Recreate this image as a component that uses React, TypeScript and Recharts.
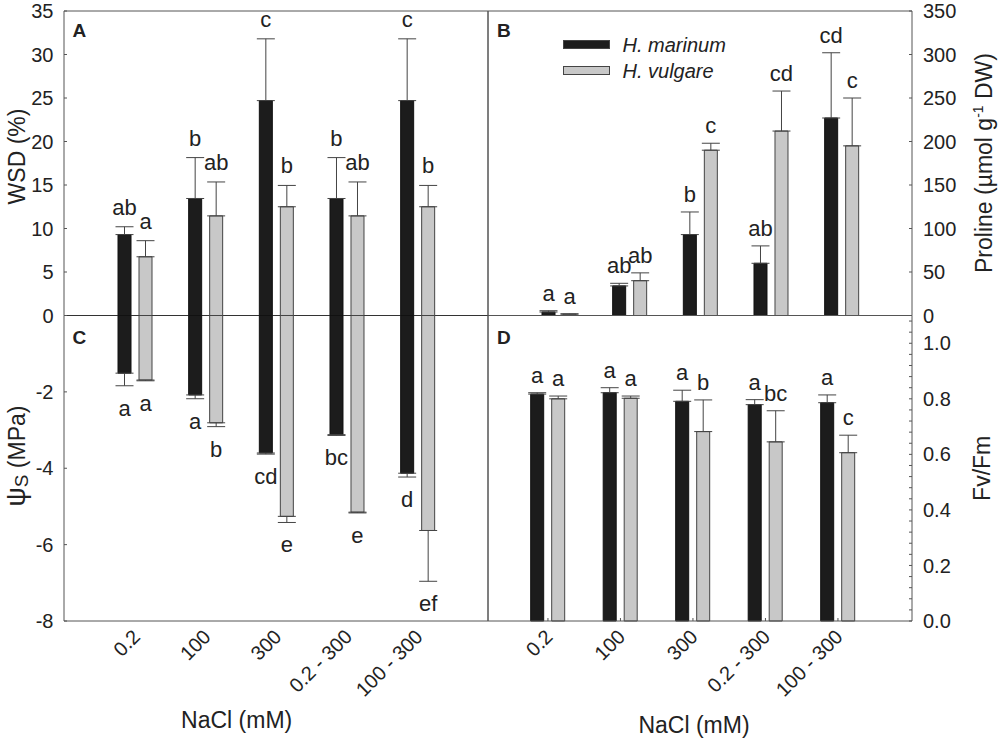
import React from 'react';
import {
  ComposedChart,
  Bar,
  XAxis,
  YAxis,
  ErrorBar,
  LabelList,
  ReferenceLine,
  Legend,
} from 'recharts';

// ---------------- data ----------------
const categories = ['0.2', '100', '300', '0.2 - 300', '100 - 300'];
const seriesNames = ['H. marinum', 'H. vulgare'];

// Panel A: WSD (%)
const wsdMarinum = [9.3, 13.45, 24.7, 13.45, 24.7];
const wsdMarinumErr = [0.9, 4.7, 7.1, 4.7, 7.1];
const wsdMarinumLetters = ['ab', 'b', 'c', 'b', 'c'];
const wsdVulgare = [6.75, 11.45, 12.5, 11.45, 12.5];
const wsdVulgareErr = [1.85, 3.9, 2.45, 3.9, 2.45];
const wsdVulgareLetters = ['a', 'ab', 'b', 'ab', 'b'];
const wsdTicks = [5, 10, 15, 20, 25, 30, 35];

// Panel B: Proline
const proMarinum = [4, 34, 93, 60, 227];
const proMarinumErr = [1.5, 3, 26, 20, 75];
const proMarinumLetters = ['a', 'ab', 'b', 'ab', 'cd'];
const proVulgare = [1.5, 40, 190, 212, 195];
const proVulgareErr = [0.5, 9, 8, 46, 55];
const proVulgareLetters = ['a', 'ab', 'c', 'cd', 'c'];
const proTicks = [0, 50, 100, 150, 200, 250, 300, 350];

// Panel C: osmotic potential (MPa)
const psiMarinum = [-1.51, -2.08, -3.6, -3.12, -4.13];
const psiMarinumErr = [0.33, 0.1, 0.03, 0.02, 0.1];
const psiMarinumLetters = ['a', 'a', 'cd', 'bc', 'd'];
const psiVulgare = [-1.69, -2.81, -5.26, -5.15, -5.63];
const psiVulgareErr = [0.02, 0.1, 0.16, 0.02, 1.33];
const psiVulgareLetters = ['a', 'b', 'e', 'e', 'ef'];
const psiTicks = [-8, -6, -4, -2, 0];

// Panel D: Fv/Fm
const fvMarinum = [0.817, 0.822, 0.791, 0.779, 0.786];
const fvMarinumErr = [0.005, 0.018, 0.04, 0.018, 0.028];
const fvMarinumLetters = ['a', 'a', 'a', 'a', 'a'];
const fvVulgare = [0.8, 0.802, 0.682, 0.645, 0.606];
const fvVulgareErr = [0.01, 0.008, 0.114, 0.112, 0.063];
const fvVulgareLetters = ['a', 'a', 'b', 'bc', 'c'];
const fvTicks = [
  0, 0.04, 0.08, 0.12, 0.16, 0.2, 0.24, 0.28, 0.32, 0.36, 0.4, 0.44, 0.48, 0.52,
  0.56, 0.6, 0.64, 0.68, 0.72, 0.76, 0.8, 0.84, 0.88, 0.92, 0.96, 1.0, 1.04, 1.08,
];
const fvMajorTicks = [0, 0.2, 0.4, 0.6, 0.8, 1.0];

// ---------------- styles ----------------
const FONT = "'Liberation Sans', Arial, Helvetica, sans-serif";
const INK = '#222';
const FRAME = '#555';
const DARK_FILL = '#1c1c1c';
const LIGHT_FILL = '#c8c8c8';
const BAR_EDGE = '#444';
const W = 1000;
const H = 744;
const X_LEFT = 64;
const X_MID = 488;
const X_RIGHT = 912;
const Y_TOP = 11;
const Y_MID = 315.5;
const Y_BOT = 621;
const BAR_W = 13;

const buildRows = (
  m: number[],
  mErr: number[],
  v: number[],
  vErr: number[],
  negative: boolean,
) =>
  categories.map((cat, i) => ({
    cat,
    idx: i,
    m: m[i],
    v: v[i],
    mErr: negative ? [mErr[i], 0] : [0, mErr[i]],
    vErr: negative ? [vErr[i], 0] : [0, vErr[i]],
  }));

const rowsA = buildRows(wsdMarinum, wsdMarinumErr, wsdVulgare, wsdVulgareErr, false);
const rowsB = buildRows(proMarinum, proMarinumErr, proVulgare, proVulgareErr, false);
const rowsC = buildRows(psiMarinum, psiMarinumErr, psiVulgare, psiVulgareErr, true);
const rowsD = buildRows(fvMarinum, fvMarinumErr, fvVulgare, fvVulgareErr, false);

const letterContent =
  (values: number[], errs: number[], letters: string[], mode: 'above' | 'below', gap: number) =>
  (props: any) => {
    const i = typeof props.value === 'number' ? props.value : props.index;
    const vb = props.viewBox ?? props;
    const { x, y, width, height } = vb;
    const val = values[i];
    if (val == null || !height) return <g />;
    const ppu = Math.abs(height / val);
    const cx = x + width / 2;
    const ty =
      mode === 'above'
        ? Math.min(y, y + height) - errs[i] * ppu - gap
        : Math.max(y, y + height) + errs[i] * ppu + gap;
    return (
      <text x={cx} y={ty} textAnchor="middle" fontSize={22} fill={INK} fontFamily={FONT}>
        {letters[i]}
      </text>
    );
  };

const RotatedTick = (props: any) => {
  const { x, y, payload } = props;
  const ax = x + 6;
  const ay = y + 17;
  return (
    <text
      x={ax}
      y={ay}
      transform={`rotate(-45 ${ax} ${ay})`}
      textAnchor="end"
      fontSize={20}
      fill={INK}
      fontFamily={FONT}
    >
      {payload.value}
    </text>
  );
};

const FvTick = (props: any) => {
  const { x, y, payload } = props;
  const v = payload.value;
  const major = fvMajorTicks.some((t) => Math.abs(t - v) < 1e-6);
  if (!major) return <g />;
  return (
    <text x={x} y={y} dy="0.355em" textAnchor="start" fontSize={20} fill={INK} fontFamily={FONT}>
      {v.toFixed(1)}
    </text>
  );
};

const tickStyle = { fontSize: 20, fill: INK, fontFamily: FONT };
const frameLine = { stroke: FRAME, strokeWidth: 1 };

const LegendBox = (props: any) => {
  const items = props.payload || [];
  return (
    <div style={{ fontFamily: FONT, fontStyle: 'italic', fontSize: 20, color: INK }}>
      {items.map((it: any, k: number) => (
        <div key={k} style={{ display: 'flex', alignItems: 'center', height: 26, lineHeight: '26px' }}>
          <div
            style={{
              width: 47,
              height: 9,
              boxSizing: 'border-box',
              background: it.color,
              border: `1px solid ${BAR_EDGE}`,
              marginRight: 12.5,
            }}
          />
          <span>{it.value}</span>
        </div>
      ))}
    </div>
  );
};

const barsFor = (
  values: [number[], number[]],
  errs: [number[], number[]],
  letters: [string[], string[]],
  mode: 'above' | 'below',
  gap: number,
) => [
  <Bar
    key="m"
    dataKey="m"
    name={seriesNames[0]}
    fill={DARK_FILL}
    stroke="#111"
    strokeWidth={1}
    barSize={BAR_W}
    isAnimationActive={false}
  >
    <ErrorBar dataKey="mErr" width={9} stroke={BAR_EDGE} strokeWidth={1} />
    <LabelList dataKey="idx" content={letterContent(values[0], errs[0], letters[0], mode, gap)} />
  </Bar>,
  <Bar
    key="v"
    dataKey="v"
    name={seriesNames[1]}
    fill={LIGHT_FILL}
    stroke={BAR_EDGE}
    strokeWidth={1}
    barSize={BAR_W}
    isAnimationActive={false}
  >
    <ErrorBar dataKey="vErr" width={9} stroke={BAR_EDGE} strokeWidth={1} />
    <LabelList dataKey="idx" content={letterContent(values[1], errs[1], letters[1], mode, gap)} />
  </Bar>,
];

const layer: React.CSSProperties = { position: 'absolute', left: 0, top: 0 };

export default function App() {
  return (
    <div
      style={{
        position: 'absolute',
        left: 0,
        top: 0,
        width: W,
        height: H,
        background: '#fff',
        overflow: 'hidden',
        fontFamily: FONT,
      }}
    >
      {/* Panel A */}
      <div style={layer}>
        <ComposedChart
          width={W}
          height={H}
          data={rowsA}
          margin={{ top: Y_TOP - 1, right: W - X_MID - 1, bottom: H - Y_MID, left: X_LEFT - 60 }}
          barSize={BAR_W}
          barGap={8}
        >
          <XAxis dataKey="cat" hide padding={{ left: 36, right: 34.67 }} />
          <XAxis
            xAxisId="top"
            dataKey="cat"
            orientation="top"
            height={1}
            tick={false}
            tickLine={false}
            axisLine={frameLine}
          />
          <YAxis
            domain={[0, 35]}
            ticks={wsdTicks}
            interval={0}
            width={60}
            tickSize={-3}
            tickMargin={13.5}
            tick={tickStyle}
            axisLine={frameLine}
            tickLine={frameLine}
          />
          <YAxis
            yAxisId="r"
            orientation="right"
            width={1}
            domain={[0, 1]}
            tick={false}
            tickLine={false}
            axisLine={frameLine}
          />
          <ReferenceLine y={0} stroke="#333" strokeWidth={1} />
          {barsFor(
            [wsdMarinum, wsdVulgare],
            [wsdMarinumErr, wsdVulgareErr],
            [wsdMarinumLetters, wsdVulgareLetters],
            'above',
            12,
          )}
        </ComposedChart>
      </div>

      {/* Panel C */}
      <div style={layer}>
        <ComposedChart
          width={W}
          height={H}
          data={rowsC}
          margin={{ top: Y_MID, right: W - X_MID - 1, bottom: H - Y_BOT - 80, left: X_LEFT - 60 }}
          barSize={BAR_W}
          barGap={8}
        >
          <XAxis
            dataKey="cat"
            padding={{ left: 36, right: 34.67 }}
            height={80}
            interval={0}
            tickSize={0}
            tickMargin={0}
            tickLine={false}
            axisLine={frameLine}
            tick={<RotatedTick />}
          />
          <YAxis
            domain={[-8, 0]}
            ticks={psiTicks}
            interval={0}
            width={60}
            tickSize={-3}
            tickMargin={13.5}
            tick={tickStyle}
            axisLine={frameLine}
            tickLine={frameLine}
          />
          <YAxis
            yAxisId="r"
            orientation="right"
            width={1}
            domain={[0, 1]}
            tick={false}
            tickLine={false}
            axisLine={frameLine}
          />
          {barsFor(
            [psiMarinum, psiVulgare],
            [psiMarinumErr, psiVulgareErr],
            [psiMarinumLetters, psiVulgareLetters],
            'below',
            30,
          )}
        </ComposedChart>
      </div>

      {/* Panel B */}
      <div style={layer}>
        <ComposedChart
          width={W}
          height={H}
          data={rowsB}
          margin={{ top: Y_TOP - 1, right: W - X_RIGHT - 88, bottom: H - Y_MID - 1, left: X_MID - 1 }}
          barSize={BAR_W}
          barGap={8}
        >
          <XAxis
            dataKey="cat"
            padding={{ left: 36, right: 34.67 }}
            height={1}
            tick={false}
            tickLine={false}
            axisLine={frameLine}
          />
          <XAxis
            xAxisId="top"
            dataKey="cat"
            orientation="top"
            height={1}
            tick={false}
            tickLine={false}
            axisLine={frameLine}
          />
          <YAxis
            orientation="right"
            domain={[0, 350]}
            ticks={proTicks}
            interval={0}
            width={88}
            tickSize={-3}
            tickMargin={14}
            tick={tickStyle}
            axisLine={frameLine}
            tickLine={frameLine}
          />
          <YAxis
            yAxisId="l"
            orientation="left"
            width={1}
            domain={[0, 1]}
            tick={false}
            tickLine={false}
            axisLine={frameLine}
          />
          <Legend
            layout="horizontal"
            verticalAlign="middle"
            align="center"
            wrapperStyle={{ left: 563, top: 31.5, width: 220, height: 52 }}
            content={<LegendBox />}
          />
          {barsFor(
            [proMarinum, proVulgare],
            [proMarinumErr, proVulgareErr],
            [proMarinumLetters, proVulgareLetters],
            'above',
            10,
          )}
        </ComposedChart>
      </div>

      {/* Panel D */}
      <div style={layer}>
        <ComposedChart
          width={W}
          height={H}
          data={rowsD}
          margin={{ top: Y_MID, right: W - X_RIGHT - 88, bottom: H - Y_BOT - 80, left: X_MID - 1 }}
          barSize={BAR_W}
          barGap={8}
        >
          <XAxis
            dataKey="cat"
            padding={{ left: 23.7, right: 37.8 }}
            height={80}
            interval={0}
            tickSize={-3}
            tickMargin={3}
            tickLine={frameLine}
            axisLine={frameLine}
            tick={<RotatedTick />}
          />
          <YAxis
            orientation="right"
            domain={[0, 1.1]}
            ticks={fvTicks}
            interval={0}
            width={88}
            tickSize={-3}
            tickMargin={14}
            tick={<FvTick />}
            axisLine={frameLine}
            tickLine={frameLine}
          />
          <YAxis
            yAxisId="l"
            orientation="left"
            width={1}
            domain={[0, 1]}
            tick={false}
            tickLine={false}
            axisLine={frameLine}
          />
          {barsFor(
            [fvMarinum, fvVulgare],
            [fvMarinumErr, fvVulgareErr],
            [fvMarinumLetters, fvVulgareLetters],
            'above',
            10,
          )}
        </ComposedChart>
      </div>

      {/* Titles and panel labels */}
      <svg
        width={W}
        height={H}
        style={{ position: 'absolute', left: 0, top: 0, pointerEvents: 'none' }}
        fontFamily={FONT}
        fill={INK}
      >
        <text transform="translate(25 156.5) rotate(-90)" textAnchor="middle" fontSize={23}>
          WSD (%)
        </text>
        <text transform="translate(25 456) rotate(-90)" textAnchor="middle" fontSize={23}>
          <tspan fontSize={27}>ψ</tspan>
          <tspan fontSize={19} dy={3}>
            S
          </tspan>
          <tspan dy={-3}> (MPa)</tspan>
        </text>
        <text transform="translate(991.5 163) rotate(-90)" textAnchor="middle" fontSize={23}>
          Proline (µmol g
          <tspan fontSize={14} dy={-9}>
            -1
          </tspan>
          <tspan dy={9}> DW)</tspan>
        </text>
        <text transform="translate(990 468.3) rotate(-90)" textAnchor="middle" fontSize={23}>
          Fv/Fm
        </text>
        <text x={236.7} y={728} textAnchor="middle" fontSize={23}>
          NaCl (mM)
        </text>
        <text x={694} y={733} textAnchor="middle" fontSize={23}>
          NaCl (mM)
        </text>
        <text x={72.5} y={37} fontSize={19} fontWeight="bold">
          A
        </text>
        <text x={497} y={37} fontSize={19} fontWeight="bold">
          B
        </text>
        <text x={72.5} y={343.5} fontSize={19} fontWeight="bold">
          C
        </text>
        <text x={497} y={343.5} fontSize={19} fontWeight="bold">
          D
        </text>
      </svg>
    </div>
  );
}
